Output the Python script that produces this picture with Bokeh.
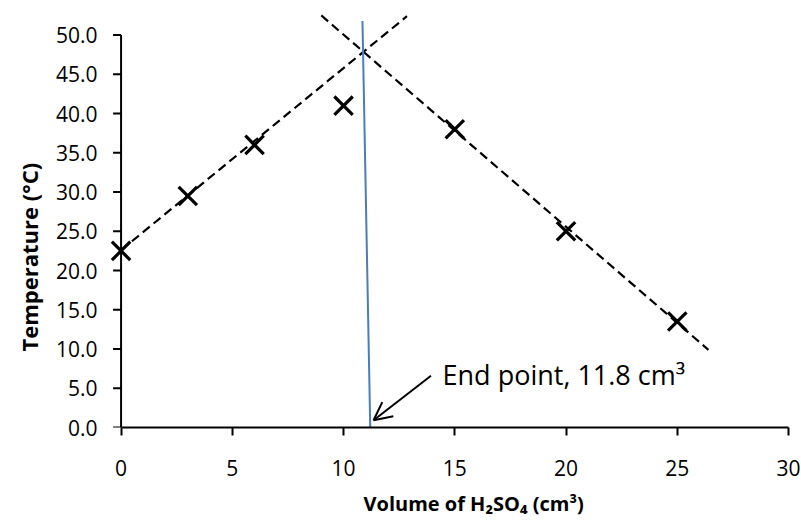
from bokeh.plotting import figure
from bokeh.models import Range1d, Label, Arrow, OpenHead, FixedTicker, NumeralTickFormatter, Title
from bokeh.embed import file_html
from bokeh.resources import INLINE

# measured points
volume = [0, 3, 6, 10, 15, 20, 25]
temperature = [22.5, 29.5, 36, 41, 38, 25, 13.5]

# dashed best-fit lines (end points)
rise_x = [0, 12.85]
rise_y = [22.6, 52.4]
fall_x = [9.0, 26.4]
fall_y = [52.5, 9.9]

# blue end-point line
end_x = [10.85, 11.2]
end_y = [51.8, 0]

# arrow and annotation
arrow_from = [13.93, 6.6]
arrow_to = [11.35, 0.93]
note_xy = [14.45, 6.7]
note_text = "End point, 11.8 cm³"

x_ticks = [0, 5, 10, 15, 20, 25, 30]
y_ticks = [0, 5, 10, 15, 20, 25, 30, 35, 40, 45, 50]

x_title = "Volume of H₂SO₄ (cm³)"
y_title = "Temperature (°C)"

FONT = "Open Sans"

p = figure(width=801, height=525, x_range=Range1d(-0.7, 30), y_range=Range1d(0, 53),
           output_backend="svg", toolbar_location=None,
           min_border_left=105, min_border_right=13, min_border_top=11, min_border_bottom=97)
p.grid.visible = False
p.outline_line_color = None
p.background_fill_color = "white"
p.border_fill_color = "white"

# x axis
xa = p.xaxis[0]
xa.ticker = FixedTicker(ticks=x_ticks)
xa.bounds = (min(x_ticks), max(x_ticks))
xa.axis_line_width = 2
xa.axis_line_color = "black"
xa.major_tick_line_width = 2
xa.major_tick_line_color = "black"
xa.major_tick_out = 8
xa.major_tick_in = 0
xa.minor_tick_line_color = None
xa.major_label_standoff = 24
xa.major_label_text_font = FONT
xa.major_label_text_font_size = "21px"
xa.major_label_text_color = "black"

# y axis (labels only; line and ticks drawn at x = 0 below)
ya = p.yaxis[0]
ya.ticker = FixedTicker(ticks=y_ticks)
ya.formatter = NumeralTickFormatter(format="0.0")
ya.axis_line_color = None
ya.major_tick_line_color = None
ya.major_tick_out = 0
ya.major_tick_in = 0
ya.minor_tick_line_color = None
ya.major_label_standoff = 8
ya.major_label_text_font = FONT
ya.major_label_text_font_size = "21px"
ya.major_label_text_color = "black"

tick_len = 0.36
p.segment(x0=[x_ticks[0]], y0=[min(y_ticks)], x1=[x_ticks[0]], y1=[max(y_ticks)],
          line_color="black", line_width=2)
p.segment(x0=[x_ticks[0] - tick_len] * len(y_ticks), y0=y_ticks,
          x1=[x_ticks[0]] * len(y_ticks), y1=y_ticks, line_color="black", line_width=2)

# lines
p.line(rise_x, rise_y, line_color="black", line_width=2.2, line_dash="9 5")
p.line(fall_x, fall_y, line_color="black", line_width=2.2, line_dash="9 5")
p.line(end_x, end_y, line_color="#4A7EBB", line_width=2)

# points
p.scatter(volume, temperature, marker="x", size=26, line_width=3.2, line_color="black")

# arrow + note
p.add_layout(Arrow(end=OpenHead(size=18, line_width=2, line_color="black"),
                   x_start=arrow_from[0], y_start=arrow_from[1],
                   x_end=arrow_to[0], y_end=arrow_to[1],
                   line_width=2, line_color="black"))
p.add_layout(Label(x=note_xy[0], y=note_xy[1], text=note_text, text_font=FONT,
                   text_font_size="27px", text_baseline="middle", text_align="left",
                   text_color="black"))

# axis titles
p.add_layout(Title(text=x_title, align="left", offset=258, standoff=18,
                   text_font=FONT, text_font_size="20px", text_font_style="bold",
                   text_color="black"), "below")
p.add_layout(Title(text=y_title, align="left", offset=76, standoff=18,
                   text_font=FONT, text_font_size="22px", text_font_style="bold",
                   text_color="black"), "left")

open("out.html", "w").write(file_html(p, INLINE))
